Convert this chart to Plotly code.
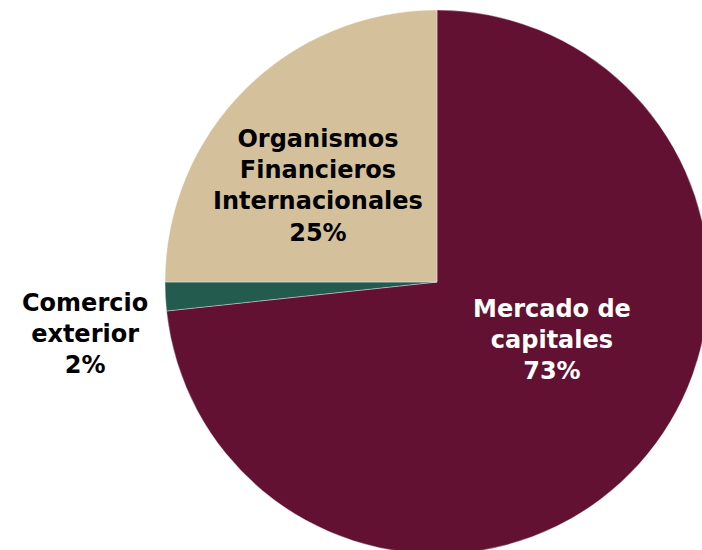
import plotly.graph_objects as go

# Financing sources (share of total, %)
labels = ["Mercado de<br>capitales", "Comercio<br>exterior", "Organismos<br>Financieros<br>Internacionales"]
values = [73.3, 1.7, 25.0]
colors = ["#621132", "#235B4E", "#D4C19C"]
text_colors = ["#ffffff", "#000000", "#000000"]

# label anchor points in paper coords
label_x = [0.711, -0.147, 0.281]
label_y = [0.393, 0.404, 0.676]

fig = go.Figure(go.Pie(
    labels=labels,
    values=values,
    marker=dict(colors=colors, line=dict(color="rgba(255,255,255,0.6)", width=0.6)),
    sort=False,
    direction="clockwise",
    rotation=0,
    textinfo="none",
    hovertemplate="%{label}<br>%{value}%<extra></extra>",
    showlegend=False,
))

for lab, v, x, y, c in zip(labels, values, label_x, label_y, text_colors):
    fig.add_annotation(
        text=f"<b>{lab}<br>{round(v)}%</b>",
        x=x, y=y, xref="paper", yref="paper",
        xanchor="center", yanchor="middle",
        showarrow=False, align="center",
        font=dict(family="DejaVu Sans", size=24, color=c),
    )

# the pie runs slightly past the window edge like the original
fig.update_layout(
    width=720, height=566,
    margin=dict(l=165, r=11, t=10, b=12),
    paper_bgcolor="white",
    plot_bgcolor="white",
)

fig.write_html(
    "out.html",
    config={"displayModeBar": False},
    post_script=(
        "document.documentElement.style.overflow='hidden';"
        "document.body.style.overflow='hidden';"
        "document.body.style.margin='0';"
    ),
)
